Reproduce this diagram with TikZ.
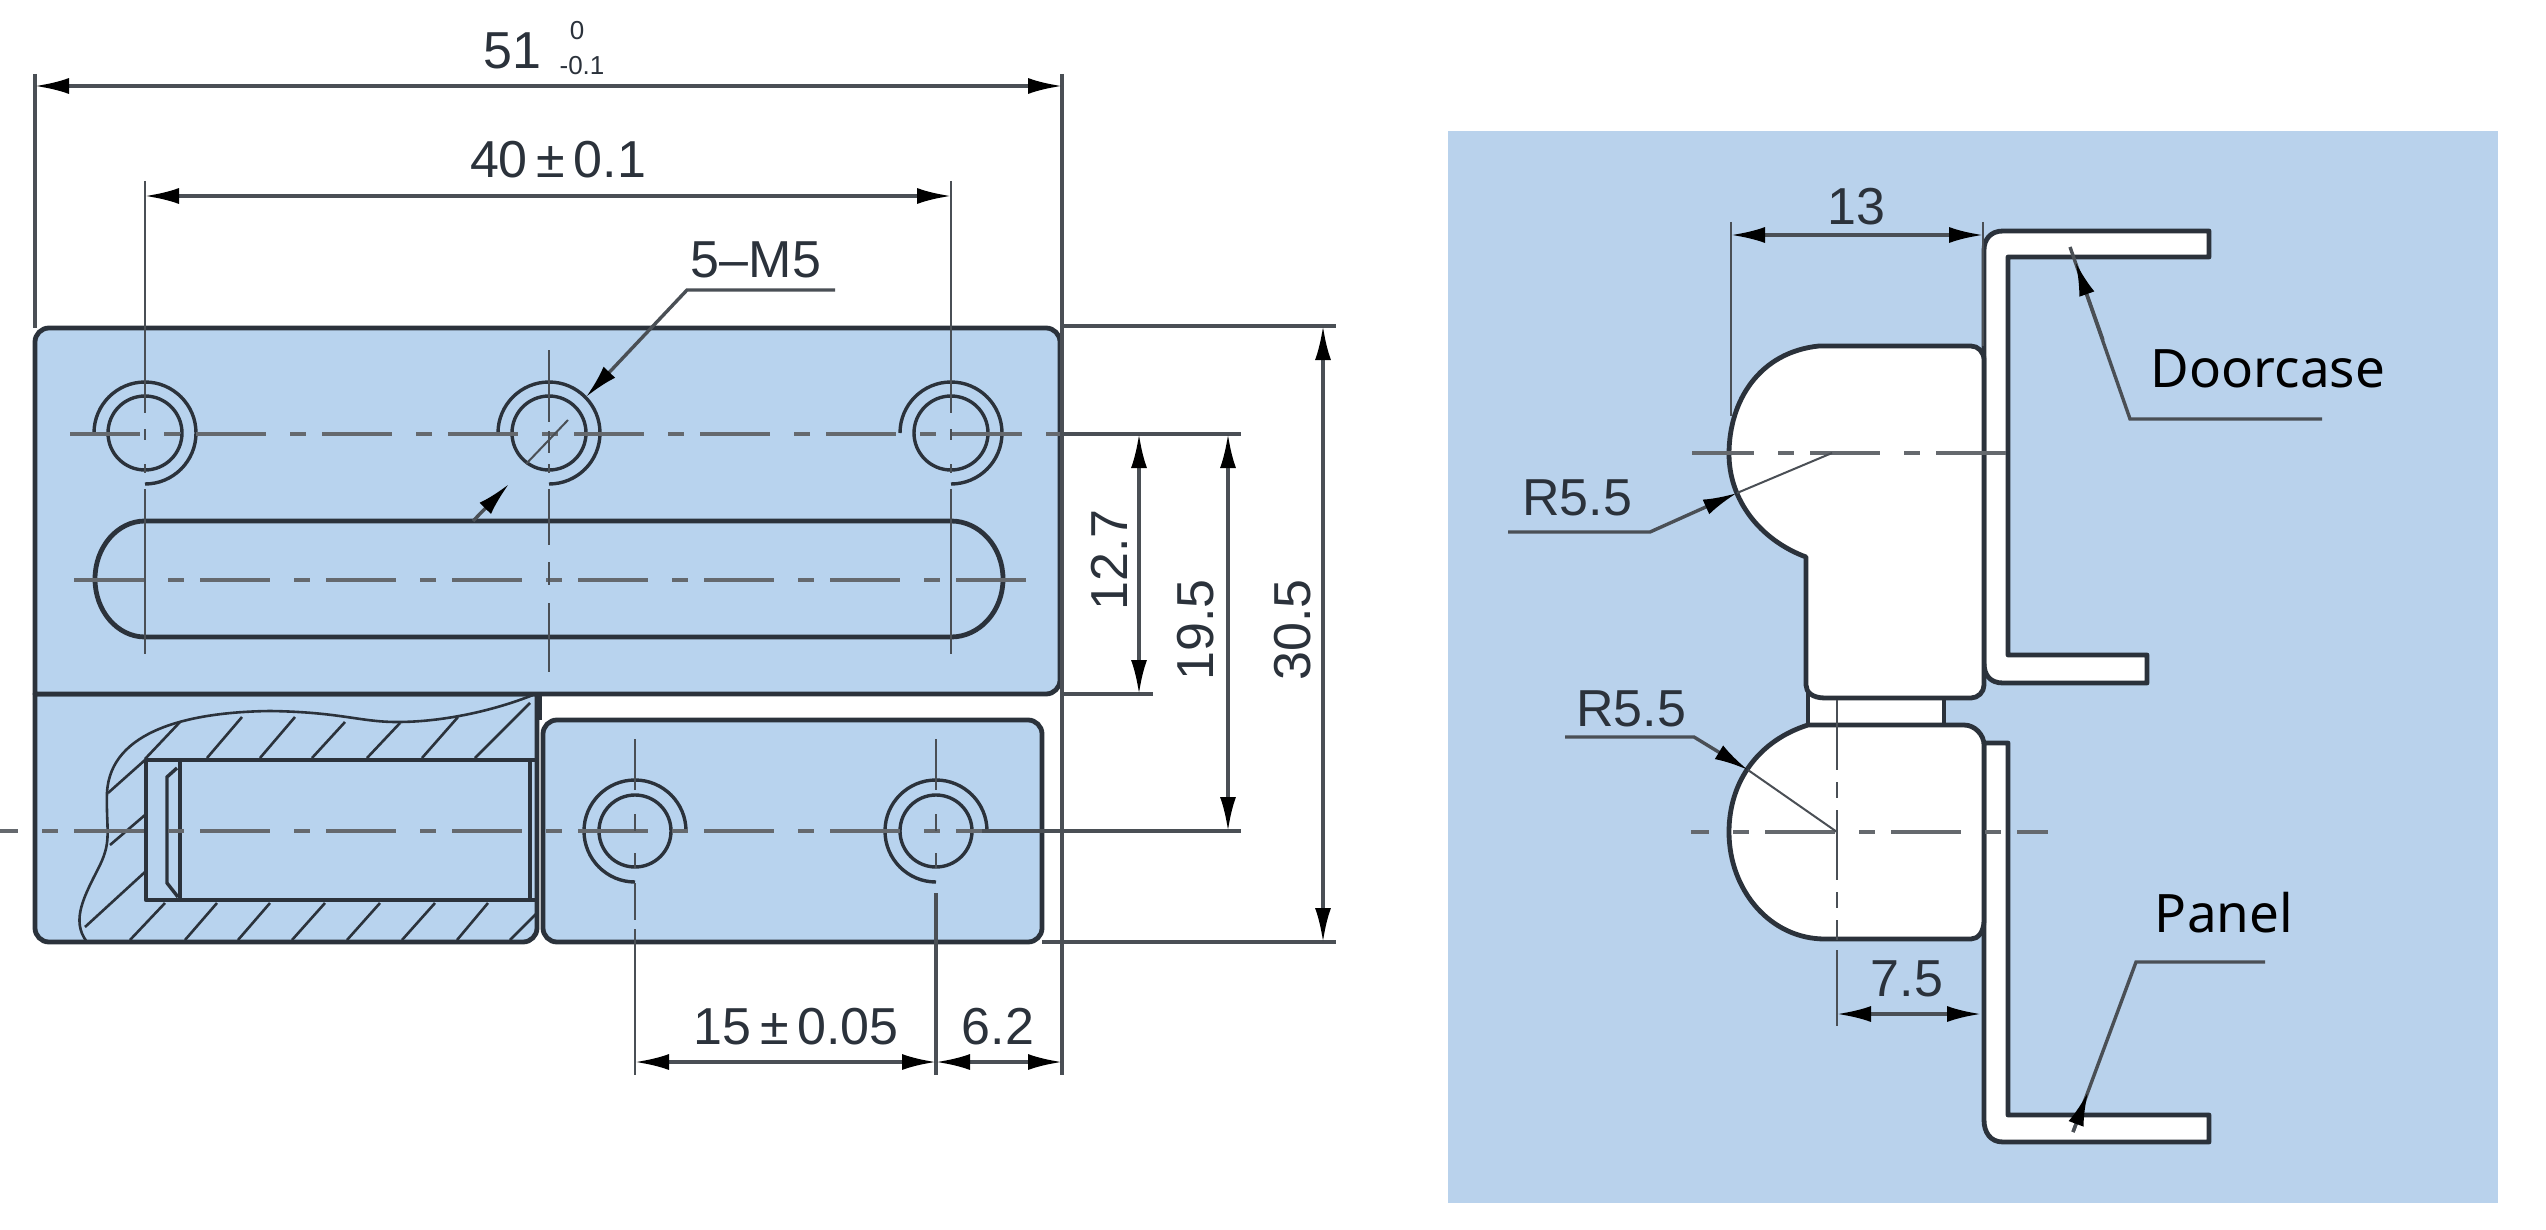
\documentclass[tikz,border=0pt]{standalone}
\usepackage{fontspec}
\setmainfont{Liberation Sans}
\newfontfamily\notofont{Noto Sans}
\usetikzlibrary{arrows.meta}
\definecolor{partblue}{HTML}{B8D3EE}
\definecolor{panelblue}{HTML}{B9D2EC}
\definecolor{inkdark}{HTML}{2B323B}
\definecolor{inkgrey}{HTML}{4A4F55}
\tikzset{every picture/.style={line width=0.75pt},
  >={Latex[length=17pt,width=8pt,black]},
  partline/.style={draw=inkdark,line width=2.4pt,line join=round},
  holeline/.style={draw=inkdark,line width=1.7pt},
  hatchline/.style={draw=inkdark,line width=1.3pt},
  thinline/.style={draw=inkgrey,line width=1pt},
  dimline/.style={draw=inkgrey,line width=1.7pt},
  centerline/.style={draw=inkgrey!85,line width=2.1pt,dash pattern=on 35pt off 12pt on 8pt off 8pt},
  dimtext/.style={text=inkdark,font=\fontsize{26}{26}\selectfont,inner sep=0pt},
  toltext/.style={text=inkdark,font=\fontsize{13}{13}\selectfont,inner sep=0pt},
  calltext/.style={text=black,font=\notofont\fontsize{26.5}{26.5}\selectfont,inner sep=0pt}}

\begin{document}
\begin{tikzpicture}[x=0.5pt,y=0.5pt,yscale=-1,xscale=1]
\useasboundingbox (0,0) rectangle (2546,1230);

% front view, lower body and lower plate
\draw [partline,fill=partblue] (35,694) [rounded corners=7pt] -- (35,942) -- (537,942) [sharp corners] -- (537,694) -- cycle ;
\draw [partline,fill=partblue,rounded corners=7pt] (543,720) -- (1042,720) -- (1042,942) -- (543,942) -- cycle ;
\draw [partline] (540,694) -- (540,720) ;
% front view, upper plate
\draw [partline,fill=partblue] (35,694) [rounded corners=7pt] -- (35,328) -- (1060,328) -- (1060,694) [sharp corners] -- cycle ;

% slot
\draw [partline] (145,521) -- (951,521) arc[start angle=-90,end angle=90,x radius=52,y radius=58] -- (145,637) arc[start angle=90,end angle=270,x radius=50,y radius=58] ;

% section of the lower body
\draw [hatchline] (533,695) .. controls (490,712) and (440,722) .. (397,722) .. controls (360,722) and (340,712) .. (270,711) .. controls (190,712) and (110,730) .. (107,793) .. controls (106,830) and (112,840) .. (100,865) .. controls (85,895) and (70,920) .. (87,942) ;
\draw [partline] (537,760) -- (146,760) -- (146,900) -- (537,900) ;
\draw [partline] (180,760) -- (180,900) ;
\draw [hatchline,line width=1.7pt] (530,760) -- (530,900) ;
\draw [hatchline,line width=1.7pt] (177,768) -- (167,777) -- (167,883) -- (178,897) ;

\draw [hatchline] (145,759) -- (180,722) ;
\draw [hatchline] (207,758) -- (242,717) ;
\draw [hatchline] (260,758) -- (295,717) ;
\draw [hatchline] (312,758) -- (345,722) ;
\draw [hatchline] (367,758) -- (400,723) ;
\draw [hatchline] (422,758) -- (458,717) ;
\draw [hatchline] (475,758) -- (530,703) ;
\draw [hatchline] (108,793) -- (145,760) ;
\draw [hatchline] (110,845) -- (145,815) ;
\draw [hatchline] (85,927) -- (145,872) ;
\draw [hatchline] (130,940) -- (165,903) ;
\draw [hatchline] (185,940) -- (217,903) ;
\draw [hatchline] (238,940) -- (270,903) ;
\draw [hatchline] (292,940) -- (325,903) ;
\draw [hatchline] (347,940) -- (380,903) ;
\draw [hatchline] (402,940) -- (435,903) ;
\draw [hatchline] (457,940) -- (488,903) ;
\draw [hatchline] (510,940) -- (537,913) ;

% holes
\draw [holeline] (145,433) circle [radius=37] ;
\draw [holeline] (94,433) arc[start angle=180,end angle=450,radius=51] ;
\draw [holeline] (549,433) circle [radius=37] ;
\draw [holeline] (498,433) arc[start angle=180,end angle=450,radius=51] ;
\draw [holeline] (951,433) circle [radius=37] ;
\draw [holeline] (900,433) arc[start angle=180,end angle=450,radius=51] ;
\draw [holeline] (635,831) circle [radius=36] ;
\draw [holeline] (686,831) arc[start angle=0,end angle=-270,radius=51] ;
\draw [holeline] (936,831) circle [radius=36] ;
\draw [holeline] (987,831) arc[start angle=0,end angle=-270,radius=51] ;

% center lines
\draw [centerline] (70,434) -- (1060,434) ;
\draw [dimline] (1060,434) -- (1241,434) ;
\draw [centerline] (74,580) -- (1037,580) ;
\draw [centerline,dash phase=26pt] (0,831) -- (982,831) ;
\draw [dimline] (982,831) -- (1241,831) ;

\draw [thinline] (145,181) -- (145,413) ;
\draw [thinline] (145,429) -- (145,440) ;
\draw [thinline] (145,464) -- (145,473) ;
\draw [thinline] (145,489) -- (145,654) ;
\draw [thinline] (951,181) -- (951,413) ;
\draw [thinline] (951,429) -- (951,440) ;
\draw [thinline] (951,464) -- (951,473) ;
\draw [thinline] (951,489) -- (951,654) ;
\draw [thinline] (549,350) -- (549,422) ;
\draw [thinline] (549,431) -- (549,453) ;
\draw [thinline] (549,464) -- (549,473) ;
\draw [thinline] (549,489) -- (549,545) ;
\draw [thinline] (549,562) -- (549,585) ;
\draw [thinline] (549,603) -- (549,672) ;
\draw [thinline] (635,739) -- (635,790) ;
\draw [thinline] (635,814) -- (635,831) ;
\draw [thinline] (635,853) -- (635,868) ;
\draw [thinline] (635,883) -- (635,920) ;
\draw [thinline] (635,929) -- (635,1075) ;
\draw [thinline] (936,739) -- (936,790) ;
\draw [thinline] (936,814) -- (936,831) ;
\draw [thinline] (936,853) -- (936,868) ;
\draw [dimline] (936,893) -- (936,1075) ;

% extension lines
\draw [dimline] (35,74) -- (35,328) ;
\draw [dimline] (1062,74) -- (1062,1075) ;
\draw [dimline] (1062,326) -- (1336,326) ;
\draw [dimline] (1062,694) -- (1153,694) ;
\draw [dimline] (1042,942) -- (1336,942) ;

% dimensions
\draw [dimline,<->] (35,86) -- (1062,86) ;
\draw [dimline,<->] (145,196) -- (951,196) ;
\draw [dimline,<->] (635,1062) -- (936,1062) ;
\draw [dimline,<->] (936,1062) -- (1062,1062) ;
\draw [dimline,<->] (1139,434) -- (1139,694) ;
\draw [dimline,<->] (1228,434) -- (1228,831) ;
\draw [dimline,<->] (1323,326) -- (1323,942) ;

\node [dimtext] (dimWidth) at (512,51) {51};
\node [toltext] (tolUpper) at (577,31) {0};
\node [toltext] (tolLower) at (582,66) {-0.1};
\node [dimtext] (dimPitch) at (558,160) {40\,±\,0.1};
\node [dimtext] (dimHoles) at (756,260) {5–M5};
\node [dimtext] (dimBoss) at (796,1027) {15\,±\,0.05};
\node [dimtext] (dimEdge) at (998,1027) {6.2};
\node [dimtext,rotate=90] (dimSlot) at (1109,560) {12.7};
\node [dimtext,rotate=90] (dimBore) at (1196,630) {19.5};
\node [dimtext,rotate=90] (dimHeight) at (1293,630) {30.5};

% leader of the threaded holes
\draw [dimline,->] (835,290) -- (687,290) -- (586,397) ;
\draw [thinline] (568,420) -- (526,464) ;
\draw [dimline,->] (473,521) -- (509,484) ;

% side view
\fill [panelblue] (1448,131) rectangle (2498,1203) ;

\draw [partline,fill=white] (1808,690) -- (1808,730) -- (1944,730) -- (1944,690) -- cycle ;
\draw [partline,fill=white] (1984,250) .. controls (1984,240) and (1990,231) .. (2003,231) -- (2209,231) -- (2209,257) -- (2008,257) -- (2008,655) -- (2147,655) -- (2147,683) -- (2003,683) .. controls (1990,683) and (1984,675) .. (1984,663) -- cycle ;
\draw [partline,fill=white] (1984,743) -- (2008,743) -- (2008,1115) -- (2209,1115) -- (2209,1142) -- (2003,1142) .. controls (1990,1142) and (1984,1132) .. (1984,1120) -- cycle ;
% upper knuckle
\draw [partline,fill=white] (1819,346) .. controls (1760,352) and (1729,400) .. (1729,454) .. controls (1729,500) and (1760,540) .. (1806,557) -- (1806,685) .. controls (1806,692) and (1812,698) .. (1825,698) -- (1971,698) .. controls (1978,698) and (1984,692) .. (1984,685) -- (1984,360) .. controls (1984,352) and (1978,346) .. (1971,346) -- cycle ;
% lower knuckle
\draw [partline,fill=white] (1808,725) .. controls (1760,740) and (1729,780) .. (1729,832) .. controls (1729,890) and (1770,939) .. (1825,939) -- (1971,939) .. controls (1978,939) and (1984,932) .. (1984,920) -- (1984,745) .. controls (1984,735) and (1975,725) .. (1964,725) -- cycle ;

\draw [centerline,dash phase=4pt] (1692,453) -- (2009,453) ;
\draw [centerline,dash phase=26pt] (1691,832) -- (2048,832) ;
\draw [thinline,dash pattern=on 35pt off 6pt on 8pt off 6pt] (1837,700) -- (1837,940) ;

% side view extension lines and dimensions
\draw [thinline] (1731,222) -- (1731,416) ;
\draw [thinline] (1983,222) -- (1983,346) ;
\draw [thinline] (1837,950) -- (1837,1026) ;
\draw [dimline,<->] (1731,235) -- (1983,235) ;
\draw [dimline,<->] (1837,1014) -- (1981,1014) ;

\node [dimtext] (dimReach) at (1856,207) {13};
\node [dimtext] (dimRadUp) at (1577,498) {R5.5};
\node [dimtext] (dimRadLow) at (1631,709) {R5.5};
\node [dimtext] (dimInset) at (1907,979) {7.5};
\node [calltext] (lblDoorcase) at (2268,369) {Doorcase};
\node [calltext] (lblPanel) at (2224,913) {Panel};

% radius leaders
\draw [dimline,->] (1508,532) -- (1650,532) -- (1737,493) ;
\draw [thinline] (1737,493) -- (1832,453) ;
\draw [dimline,->] (1565,737) -- (1694,737) -- (1748,770) ;
\draw [thinline] (1748,770) -- (1837,832) ;

% callouts
\draw [dimline] (2322,419) -- (2130,419) -- (2070,247) ;
\draw [dimline,->] (2103,340) -- (2075.5,262) ;
\draw [dimline] (2265,962) -- (2136,962) -- (2073,1132) ;
\draw [dimline,->] (2073,1132) -- (2088,1092) ;

\end{tikzpicture}
\end{document}
